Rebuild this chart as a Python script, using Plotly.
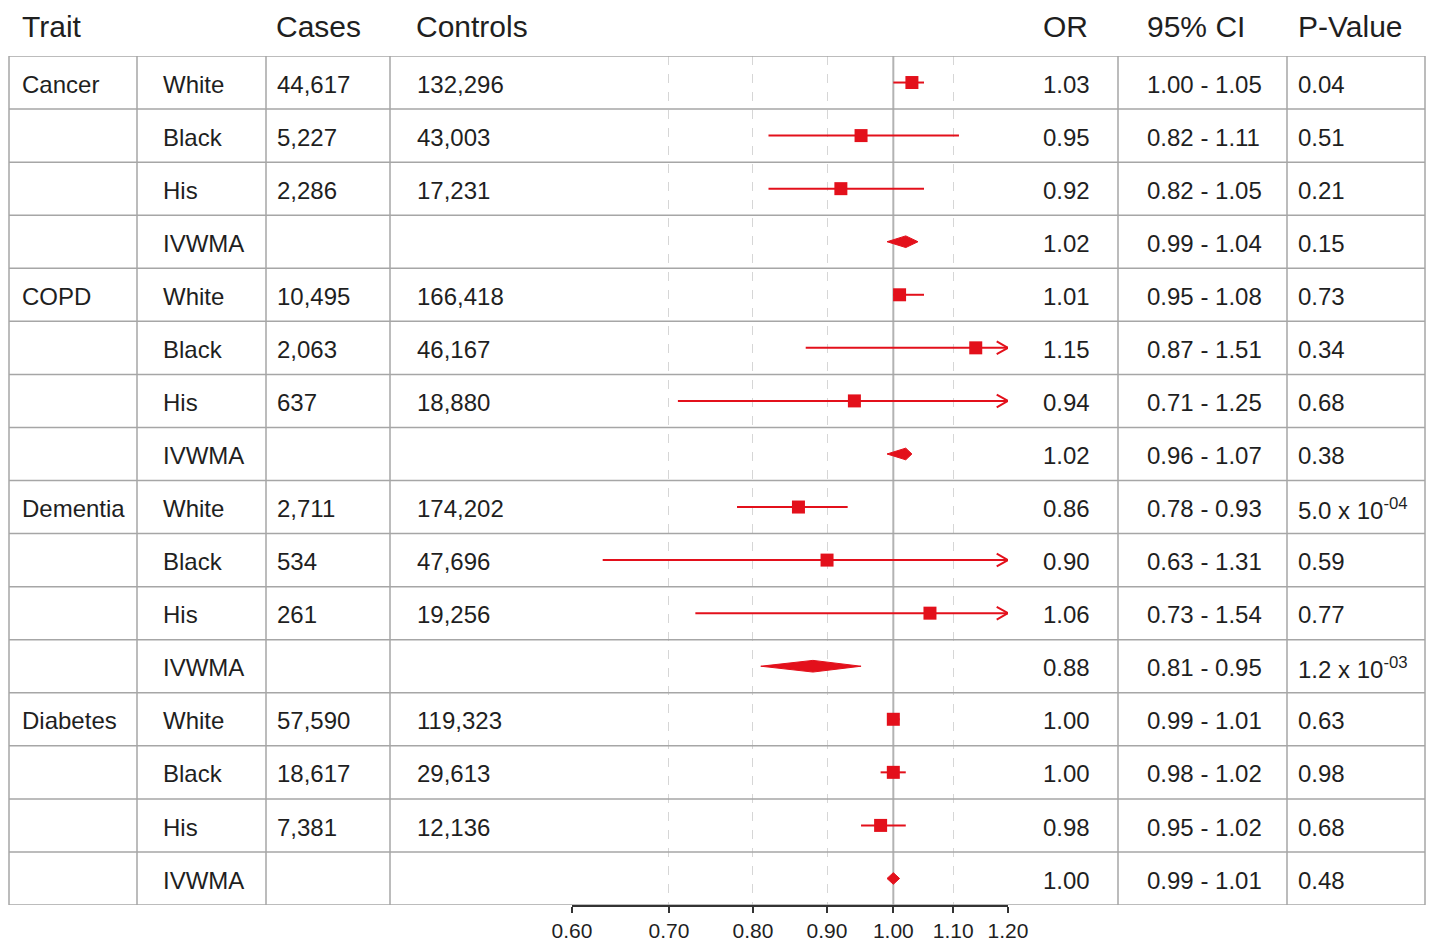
import numpy as np
import plotly.graph_objects as go

# ---------------- data ----------------
traits = ["Cancer", "COPD", "Dementia", "Diabetes"]
ancestries = ["White", "Black", "His", "IVWMA"]
cases = ["44,617", "5,227", "2,286", "",
         "10,495", "2,063", "637", "",
         "2,711", "534", "261", "",
         "57,590", "18,617", "7,381", ""]
controls = ["132,296", "43,003", "17,231", "",
            "166,418", "46,167", "18,880", "",
            "174,202", "47,696", "19,256", "",
            "119,323", "29,613", "12,136", ""]
or_text = ["1.03", "0.95", "0.92", "1.02",
           "1.01", "1.15", "0.94", "1.02",
           "0.86", "0.90", "1.06", "0.88",
           "1.00", "1.00", "0.98", "1.00"]
ci_text = ["1.00 - 1.05", "0.82 - 1.11", "0.82 - 1.05", "0.99 - 1.04",
           "0.95 - 1.08", "0.87 - 1.51", "0.71 - 1.25", "0.96 - 1.07",
           "0.78 - 0.93", "0.63 - 1.31", "0.73 - 1.54", "0.81 - 0.95",
           "0.99 - 1.01", "0.98 - 1.02", "0.95 - 1.02", "0.99 - 1.01"]
p_text = ["0.04", "0.51", "0.21", "0.15",
          "0.73", "0.34", "0.68", "0.38",
          "5.0 x 10<sup>-04</sup>", "0.59", "0.77", "1.2 x 10<sup>-03</sup>",
          "0.63", "0.98", "0.68", "0.48"]
# plotted estimates / interval ends, as drawn in the picture
plot_est = [1.03, 0.95, 0.92, 1.02, 1.01, 1.14, 0.94, 1.02,
            0.86, 0.90, 1.06, 0.88, 1.00, 1.00, 0.98, 1.00]
plot_lo = [1.00, 0.82, 0.82, 0.99, 1.00, 0.87, 0.71, 0.99,
           0.78, 0.63, 0.73, 0.81, 0.99, 0.98, 0.95, 0.99]
plot_hi = [1.05, 1.11, 1.05, 1.04, 1.05, 1.51, 1.25, 1.03,
           0.93, 1.31, 1.54, 0.95, 1.01, 1.02, 1.02, 1.01]
tick_vals = [0.60, 0.70, 0.80, 0.90, 1.00, 1.10, 1.20]
tick_text = ["0.60", "0.70", "0.80", "0.90", "1.00", "1.10", "1.20"]
headers = ["Trait", "Cases", "Controls", "OR", "95% CI", "P-Value"]

# ---------------- layout constants ----------------
W, H = 1429, 942
RED = "#E3101B"
GRID = "#a6a6a6"
TXT = "#1f1f1f"
FONT = "Liberation Sans, Arial, sans-serif"
XMIN, XMAX = tick_vals[0], tick_vals[-1]
n_rows = len(plot_est)
rows = np.arange(n_rows)
is_pooled = [a == "IVWMA" for _ in traits for a in ancestries]
anc_col = [a for _ in traits for a in ancestries]
trait_col = [t if j == 0 else "" for t in traits for j in range(len(ancestries))]

def px(x):
    return x / W

fig = go.Figure()

# reference line at OR = 1
fig.add_trace(go.Scatter(x=[1.0, 1.0], y=[-0.5, n_rows - 0.5], mode="lines",
                         line=dict(color="#b3b3b3", width=2), hoverinfo="skip",
                         showlegend=False))

# CI lines for individual studies
lx, ly = [], []
for i in rows:
    if is_pooled[i]:
        continue
    lx += [plot_lo[i], min(plot_hi[i], XMAX), None]
    ly += [int(i), int(i), None]
fig.add_trace(go.Scatter(x=lx, y=ly, mode="lines", line=dict(color=RED, width=2),
                         hoverinfo="skip", showlegend=False))

# open arrow heads for intervals truncated at the axis end
head_len = 0.0078   # in log10 units (style)
head_h = 0.12       # in row units (style)
ax_, ay_ = [], []
for i in rows:
    if plot_hi[i] > XMAX:
        back = 10 ** (np.log10(XMAX) - head_len)
        ax_ += [back, XMAX, back, None]
        ay_ += [i - head_h, int(i), i + head_h, None]
fig.add_trace(go.Scatter(x=ax_, y=ay_, mode="lines", line=dict(color=RED, width=2),
                         hoverinfo="skip", showlegend=False, cliponaxis=False))

# squares
sq = [i for i in rows if not is_pooled[i]]
fig.add_trace(go.Scatter(x=[plot_est[i] for i in sq], y=[int(i) for i in sq], mode="markers",
                         marker=dict(symbol="square", size=13, color=RED),
                         showlegend=False))

# diamonds for pooled estimates
dh = 0.11
for i in rows:
    if not is_pooled[i]:
        continue
    fig.add_trace(go.Scatter(
        x=[plot_lo[i], plot_est[i], plot_hi[i], plot_est[i], plot_lo[i]],
        y=[i, i - dh, i, i + dh, i], mode="lines", fill="toself",
        fillcolor=RED, line=dict(color=RED, width=1), hoverinfo="skip",
        showlegend=False))

# ---------------- table grid ----------------
x_left, x_right = 9, 1425
vlines = [9, 137, 266, 390, 1118, 1287, 1425]
for k in range(-1, n_rows):
    fig.add_shape(type="line", xref="paper", yref="y", x0=px(x_left), x1=px(x_right),
                  y0=k + 0.5, y1=k + 0.5, line=dict(color=GRID, width=1.5))
for v in vlines:
    fig.add_shape(type="line", xref="paper", yref="y", x0=px(v), x1=px(v),
                  y0=-0.5, y1=n_rows - 0.5, line=dict(color=GRID, width=1.5))

# ---------------- table text ----------------
col_x = {"trait": 20, "anc": 161, "cases": 275, "controls": 415,
         "or": 1041, "ci": 1145, "p": 1296}
yoff = 0.03
columns = [("trait", trait_col), ("anc", anc_col), ("cases", cases),
           ("controls", controls), ("or", or_text), ("ci", ci_text), ("p", p_text)]
for key, vals in columns:
    for i, t in enumerate(vals):
        if not t:
            continue
        fig.add_annotation(x=px(col_x[key]), y=i + yoff, xref="paper", yref="y",
                           text=t, showarrow=False, xanchor="left", yanchor="middle",
                           font=dict(family=FONT, size=24, color=TXT))

head_x = [20, 274, 414, 1041, 1145, 1296]
for hx, t in zip(head_x, headers):
    fig.add_annotation(x=px(hx), y=(H - 27) / H, xref="paper", yref="paper", text=t,
                       showarrow=False, xanchor="left", yanchor="middle",
                       font=dict(family=FONT, size=30, color=TXT))

fig.update_layout(
    width=W, height=H, margin=dict(l=0, r=0, t=0, b=0, autoexpand=False),
    paper_bgcolor="white", plot_bgcolor="white", showlegend=False,
    font=dict(family=FONT, color=TXT),
    xaxis=dict(type="log", range=[np.log10(XMIN), np.log10(XMAX)],
               domain=[px(572), px(1008)], tickvals=tick_vals, ticktext=tick_text,
               tickfont=dict(size=21, color=TXT), ticks="outside", ticklen=6,
               tickwidth=1.5, tickcolor="#333", showline=True, linecolor="#333",
               linewidth=1.5, showgrid=True, gridcolor="#d6d6d6", griddash="dash",
               gridwidth=1, zeroline=False, fixedrange=True, automargin=False),
    yaxis=dict(range=[n_rows - 0.5, -0.5], domain=[(H - 905) / H, (H - 56) / H],
               visible=False, showgrid=False, zeroline=False, fixedrange=True,
               automargin=False),
)

fig.write_html(
    "out.html",
    config={"displayModeBar": False},
    post_script="document.body.style.margin='0px';"
                "document.documentElement.style.overflow='hidden';",
)
